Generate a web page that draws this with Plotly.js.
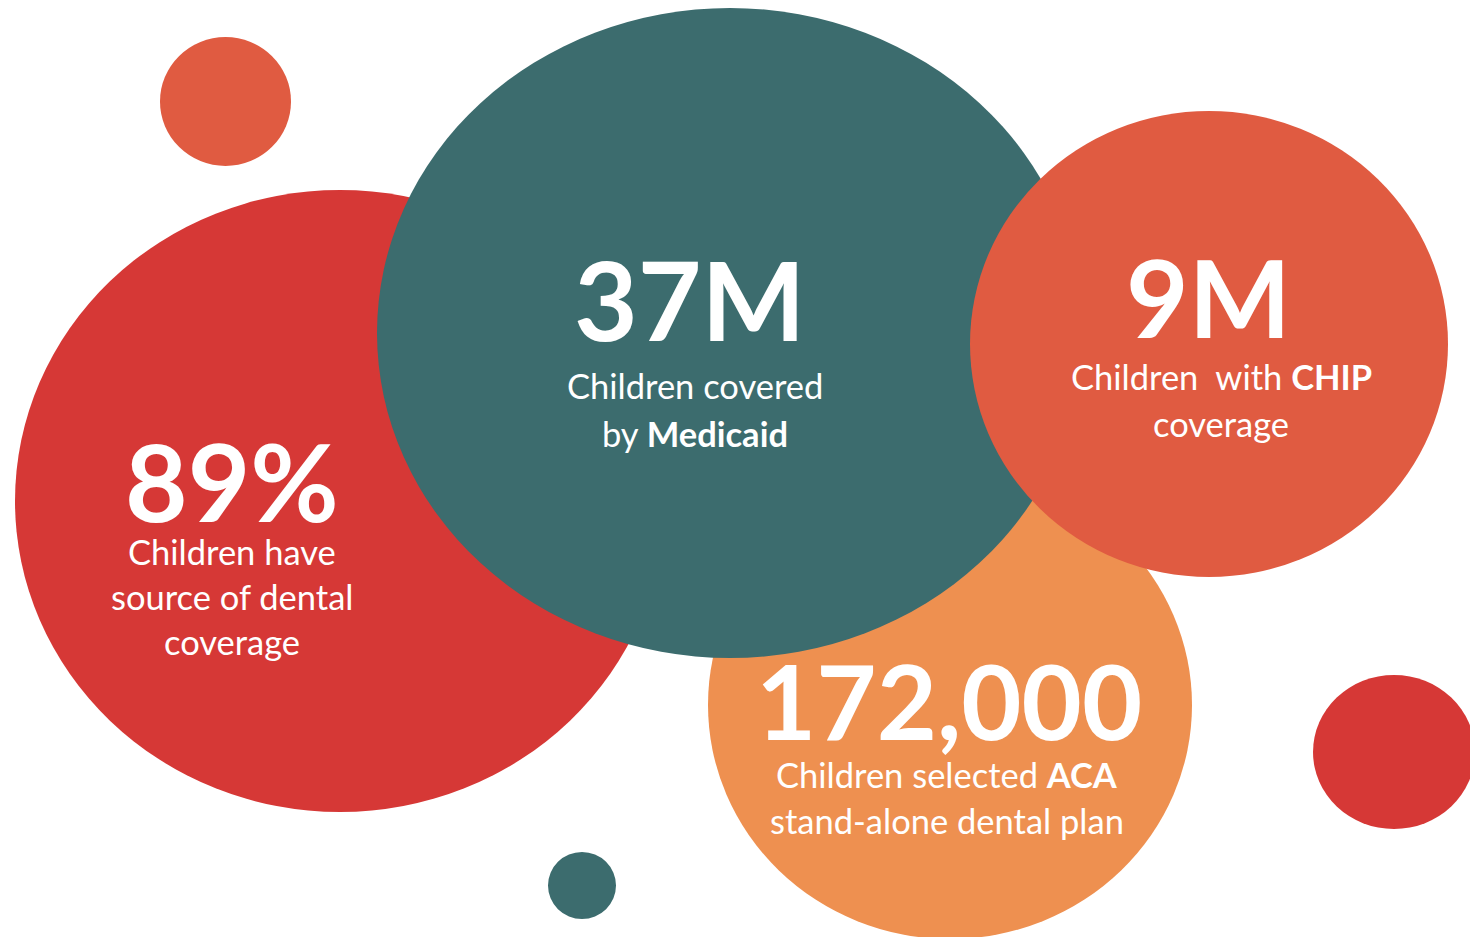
<!DOCTYPE html>
<html>
<head>
<meta charset="utf-8">
<script src="https://cdn.plot.ly/plotly-3.0.1.min.js"></script>
<style>html,body{margin:0;padding:0;background:#fff;}#chart{width:1470px;height:937px;}</style>
</head>
<body>
<div id="chart"></div>
<script>
// ---- data ----
const metrics = ['dental source', 'Medicaid', 'CHIP', 'ACA stand-alone'];
const values = ['89%', '37M', '9M', '172,000'];
const descriptions = [
  ['Children have', 'source of dental', 'coverage'],
  ['Children covered', 'by <b>Medicaid</b>'],
  ['Children\u00a0 with <b>CHIP</b>', 'coverage'],
  ['Children selected <b>ACA</b>', 'stand-alone dental plan']
];

// ---- layout (bubble geometry in the 1470x937 pixel frame) ----
// draw order: ACA, dental, Medicaid, CHIP, then decorative dots
const bubbleOrder = [3, 0, 1, 2];
const bubbleCx = [340, 730, 1209, 950];
const bubbleCy = [501, 333, 344, 705];
const bubbleRx = [325, 353, 239, 242];
const bubbleRy = [311, 325, 233, 234];
const bubbleColor = ['#D63836', '#3C6C6E', '#E05B41', '#EE9050'];

const dotCx = [225.5, 582, 1394];
const dotCy = [101.5, 885.5, 752];
const dotRx = [65.5, 34, 81];
const dotRy = [64.5, 33.5, 77];
const dotColor = ['#E05B41', '#3C6C6E', '#D63836'];

const valueX = [232, 690, 1208, 949];
const valueY = [480, 298, 296, 699];
const valueSize = [108, 110, 108, 104];
const descX = [232, 695, 1221, 947];
const descY0 = [551, 385, 376, 774];
const descStep = [45, 48, 47, 46];
const descSize = 34.5;

const shapes = [];
bubbleOrder.forEach(i => {
  shapes.push({type: 'circle', xref: 'x', yref: 'y', layer: 'below',
    x0: bubbleCx[i] - bubbleRx[i], x1: bubbleCx[i] + bubbleRx[i],
    y0: bubbleCy[i] - bubbleRy[i], y1: bubbleCy[i] + bubbleRy[i],
    fillcolor: bubbleColor[i], line: {width: 0}});
});
dotCx.forEach((c, i) => {
  shapes.push({type: 'circle', xref: 'x', yref: 'y', layer: 'below',
    x0: c - dotRx[i], x1: c + dotRx[i],
    y0: dotCy[i] - dotRy[i], y1: dotCy[i] + dotRy[i],
    fillcolor: dotColor[i], line: {width: 0}});
});

const FONT = 'Lato, "Open Sans", sans-serif';
const annotations = [];
values.forEach((v, i) => {
  annotations.push({x: valueX[i], y: valueY[i], xref: 'x', yref: 'y', text: '<b>' + v + '</b>',
    showarrow: false, xanchor: 'center', yanchor: 'middle', borderpad: 0,
    font: {family: FONT, size: valueSize[i], color: '#ffffff'}});
  descriptions[i].forEach((line, j) => {
    annotations.push({x: descX[i], y: descY0[i] + j * descStep[i], xref: 'x', yref: 'y', text: line,
      showarrow: false, xanchor: 'center', yanchor: 'middle', borderpad: 0,
      font: {family: FONT, size: descSize, color: '#ffffff'}});
  });
});

const traces = [{x: bubbleCx, y: bubbleCy, type: 'scatter', mode: 'markers',
  marker: {size: 1, opacity: 0}, hoverinfo: 'skip', showlegend: false, text: metrics}];

const layout = {
  width: 1470, height: 937,
  margin: {l: 0, r: 0, t: 0, b: 0, pad: 0},
  paper_bgcolor: '#ffffff', plot_bgcolor: '#ffffff',
  xaxis: {range: [0, 1470], visible: false, fixedrange: true},
  yaxis: {range: [937, 0], visible: false, fixedrange: true},
  shapes: shapes,
  annotations: annotations,
  showlegend: false
};
Plotly.newPlot('chart', traces, layout, {displayModeBar: false, staticPlot: true});
</script>
</body>
</html>
